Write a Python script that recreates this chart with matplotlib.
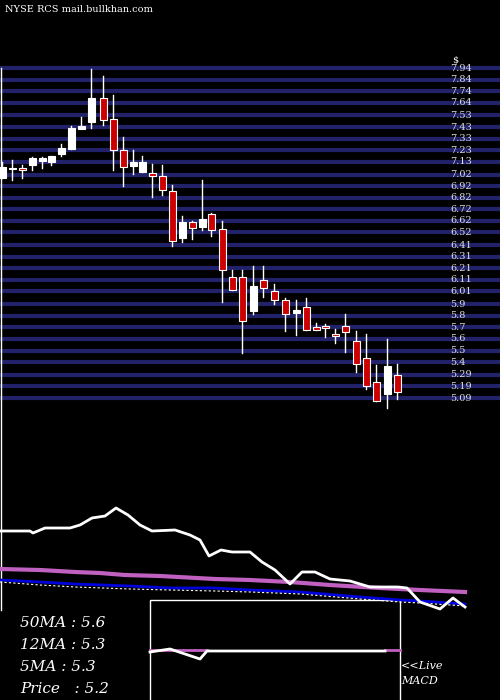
import matplotlib
matplotlib.use("Agg")
import matplotlib.pyplot as plt
from matplotlib.patches import Rectangle

# candle data (x position, open, close, high, low) in price units
cx = [2, 12, 22, 32, 42, 51, 61, 71, 81, 91, 103, 113, 123, 133, 142, 152, 162, 172, 182, 192,
      202, 211, 222, 232, 242, 253, 263, 274, 285, 296, 306, 316, 325, 335, 345, 356, 366, 376, 387, 397]
# pixel-read (top, bottom, wick top, wick bottom, up?)
raw = [(167, 178, 162, 178, 1), (168, 169, 160, 180, 1), (168, 170, 165, 178, 0), (158, 165, 157, 170, 1),
       (158, 161, 157, 168, 1), (156, 162, 156, 165, 1), (148, 154, 144, 156, 1), (128, 149, 126, 149, 1),
       (126, 129, 117, 128, 1), (98, 122, 69, 128, 1), (98, 120, 76, 125, 0), (119, 150, 95, 170, 0),
       (150, 167, 137, 186, 0), (162, 166, 150, 174, 1), (162, 172, 156, 172, 1), (173, 176, 164, 197, 0),
       (176, 190, 165, 195, 0), (191, 241, 185, 246, 0), (222, 238, 216, 242, 1), (222, 228, 221, 239, 0),
       (219, 227, 180, 230, 1), (214, 230, 213, 236, 0), (229, 270, 221, 302, 0), (277, 290, 270, 290, 0),
       (277, 321, 270, 353, 0), (286, 311, 266, 314, 1), (280, 288, 266, 297, 0), (291, 300, 284, 304, 0),
       (300, 314, 298, 331, 0), (310, 313, 300, 335, 1), (307, 330, 298, 330, 0), (327, 330, 323, 330, 0),
       (326, 328, 324, 337, 0), (334, 336, 329, 343, 0), (326, 332, 314, 352, 0), (341, 364, 331, 372, 0),
       (358, 386, 334, 389, 0), (382, 401, 365, 401, 0), (366, 394, 339, 408, 1), (375, 392, 364, 399, 0)]
to_p = lambda y: 7.94 - (y - 68) / 115.8
body_top = [to_p(r[0]) for r in raw]
body_bot = [to_p(r[1]) for r in raw]
highs = [to_p(r[2]) for r in raw]
lows = [to_p(r[3]) for r in raw]
up = [r[4] for r in raw]

price_labels = ["7.94", "7.84", "7.74", "7.64", "7.53", "7.43", "7.33", "7.23", "7.13", "7.02",
                "6.92", "6.82", "6.72", "6.62", "6.52", "6.41", "6.31", "6.21", "6.11", "6.01",
                "5.9", "5.8", "5.7", "5.6", "5.5", "5.4", "5.29", "5.19", "5.09"]

# indicator lines (pixel coords in lower panel)
px_x = [0, 30, 33, 45, 70, 80, 92, 105, 116, 128, 140, 152, 175, 190, 200, 209, 221, 232, 250,
        262, 275, 290, 302, 315, 330, 350, 370, 398, 407, 420, 440, 453, 465]
px_y = [531, 531, 533, 528, 528, 525, 518, 516, 508, 515, 525, 531, 530, 535, 540, 556, 550, 552, 552,
        562, 570, 584, 572, 572, 579, 581, 587, 587, 588, 602, 609, 598, 607]
ma50_x = [0, 40, 75, 100, 125, 160, 215, 250, 290, 330, 380, 420, 465]
ma50_y = [569, 570, 572, 573, 575, 576, 579, 580, 582, 585, 588, 590, 592]
ma12_x = [0, 40, 75, 130, 170, 215, 250, 300, 360, 400, 420, 465]
ma12_y = [580, 582, 584, 586, 588, 588, 590, 592, 597, 600, 601, 604]
ma5_y = [582, 585, 587, 589, 590, 591, 592, 594, 599, 602, 603, 606]
macd_x = [150, 170, 200, 207, 385]
macd_y = [652, 649, 659, 651, 651]

fig = plt.figure(figsize=(5, 7), dpi=100, facecolor="black")
ax = fig.add_axes([0, 1 - 410 / 700, 1, 350 / 700])
ax.set_facecolor("black")
ax.set_xlim(0, 500)
ax.set_ylim(to_p(410), to_p(60))
ax.axis("off")
for lab in price_labels:
    v = float(lab)
    ax.axhline(v, color="#22226a", lw=3, zorder=0)
    ax.text(450, v, lab, color="#dddddd", fontsize=7, family="DejaVu Serif", va="center")
ax.text(452, to_p(60), "$", color="white", fontsize=7, family="DejaVu Serif", va="center")
for x, t, b, h, l, u in zip(cx, body_top, body_bot, highs, lows, up):
    ax.plot([x, x], [l, h], color="white", lw=1, zorder=2)
    ax.add_patch(Rectangle((x - 3.5, b), 7, max(t - b, 0.01), facecolor="white" if u else "#cc0000",
                           edgecolor="white", lw=0.8, zorder=3))

ov = fig.add_axes([0, 0, 1, 1])
ov.set_xlim(0, 500)
ov.set_ylim(700, 0)
ov.axis("off")
ov.patch.set_alpha(0)
ov.plot([1, 1], [68, 610], color="white", lw=1)
ov.plot(ma50_x, ma50_y, color="#c060c0", lw=3)
ov.plot(ma12_x, ma12_y, color="#0000dd", lw=2)
ov.plot(ma12_x, ma5_y, color="white", lw=0.8, ls=(0, (2, 2)))
ov.plot(px_x, px_y, color="white", lw=2)
ov.add_patch(Rectangle((150, 600), 250, 105, fill=False, edgecolor="white", lw=1))
ov.plot([150, 207], [650, 650], color="#c060c0", lw=2)
ov.plot([385, 400], [650, 650], color="#c060c0", lw=2)
ov.plot(macd_x, macd_y, color="white", lw=2)

ov.text(5, 10, "NYSE RCS mail.bullkhan.com", color="white", fontsize=7, family="DejaVu Serif", va="center")
for y, s in [(623, "50MA : 5.6"), (645, "12MA : 5.3"), (667, "5MA : 5.3"), (689, "Price   : 5.2")]:
    ov.text(20, y, s, color="white", fontsize=11, family="DejaVu Serif", style="italic", va="center")
ov.text(401, 666, "<<Live", color="white", fontsize=8, family="DejaVu Serif", style="italic", va="center")
ov.text(401, 681, "MACD", color="white", fontsize=8, family="DejaVu Serif", style="italic", va="center")

fig.savefig("out.png", facecolor="black")
